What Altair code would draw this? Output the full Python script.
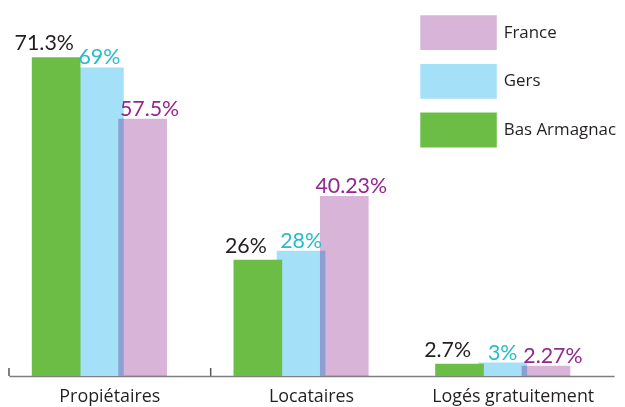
import altair as alt
import pandas as pd

categories = ["Propiétaires", "Locataires", "Logés gratuitement"]
series = ["Bas Armagnac", "Gers", "France"]
bas_armagnac = [71.3, 26, 2.7]
gers = [69, 28, 3]
france = [57.5, 40.23, 2.27]

legend_order = ["France", "Gers", "Bas Armagnac"]
bar_colors = ["#d8b4d8", "#a4e1f8", "#6cbd45"]
label_colors = {"Bas Armagnac": "#231f20", "Gers": "#25bccc", "France": "#93278f"}
label_dx = {"Bas Armagnac": -12, "Gers": 0, "France": 7}
label_dy = {"Bas Armagnac": -7, "Gers": -3, "France": -3}

rows = []
for s, vals in zip(series, [bas_armagnac, gers, france]):
    for c, v in zip(categories, vals):
        rows.append({"cat": c, "series": s, "value": v, "label": f"{v:g}%"})
df = pd.DataFrame(rows)

x = alt.X(
    "cat:N",
    sort=categories,
    scale=alt.Scale(paddingInner=0, paddingOuter=0),
    axis=alt.Axis(
        title=None, ticks=False, labelAngle=0, labelFont="Open Sans",
        labelFontSize=18, labelColor="#231f20", labelPadding=12,
        domainColor="#7f7f7f", domainWidth=1.5,
    ),
)
xo = alt.XOffset(
    "series:N",
    scale=alt.Scale(domain=series, paddingInner=0, paddingOuter=0.833, align=0.355),
)
y = alt.Y("value:Q", scale=alt.Scale(domain=[0, 82]), axis=None)
color = alt.Color(
    "series:N",
    scale=alt.Scale(domain=legend_order, range=bar_colors),
    legend=alt.Legend(
        title=None, orient="none", legendX=435, legendY=6,
        symbolType="M-2.2,-1L2.2,-1L2.2,1L-2.2,1Z", symbolSize=1225,
        symbolStrokeWidth=0, symbolOpacity=1,
        labelFont="Open Sans", labelFontSize=17, labelColor="#231f20",
        labelOffset=28, rowPadding=14, padding=0,
    ),
)

base = alt.Chart(df).encode(x=x, xOffset=xo, y=y)


def bars(name, **kw):
    return base.transform_filter(alt.datum.series == name).mark_bar(width=49, **kw).encode(color=color)


def labels(name):
    return base.transform_filter(alt.datum.series == name).mark_text(
        baseline="alphabetic", dx=label_dx[name], dy=label_dy[name],
        font="Lato", fontSize=21.5, color=label_colors[name],
    ).encode(text="label:N")


ticks = alt.Chart(pd.DataFrame({"cat": categories[:2]})).mark_rule(
    color="#555555", strokeWidth=1.5
).encode(
    x=alt.X("cat:N", sort=categories, bandPosition=0),
    y=alt.value(361), y2=alt.value(369),
)

chart = alt.layer(
    bars("Gers"), bars("Bas Armagnac"), bars("France", blend="multiply"),
    ticks,
    labels("Bas Armagnac"), labels("Gers"), labels("France"),
).properties(width=609, height=369, padding=0).configure_view(stroke=None)

chart.save("out.html", embed_options={"renderer": "svg", "actions": False})
